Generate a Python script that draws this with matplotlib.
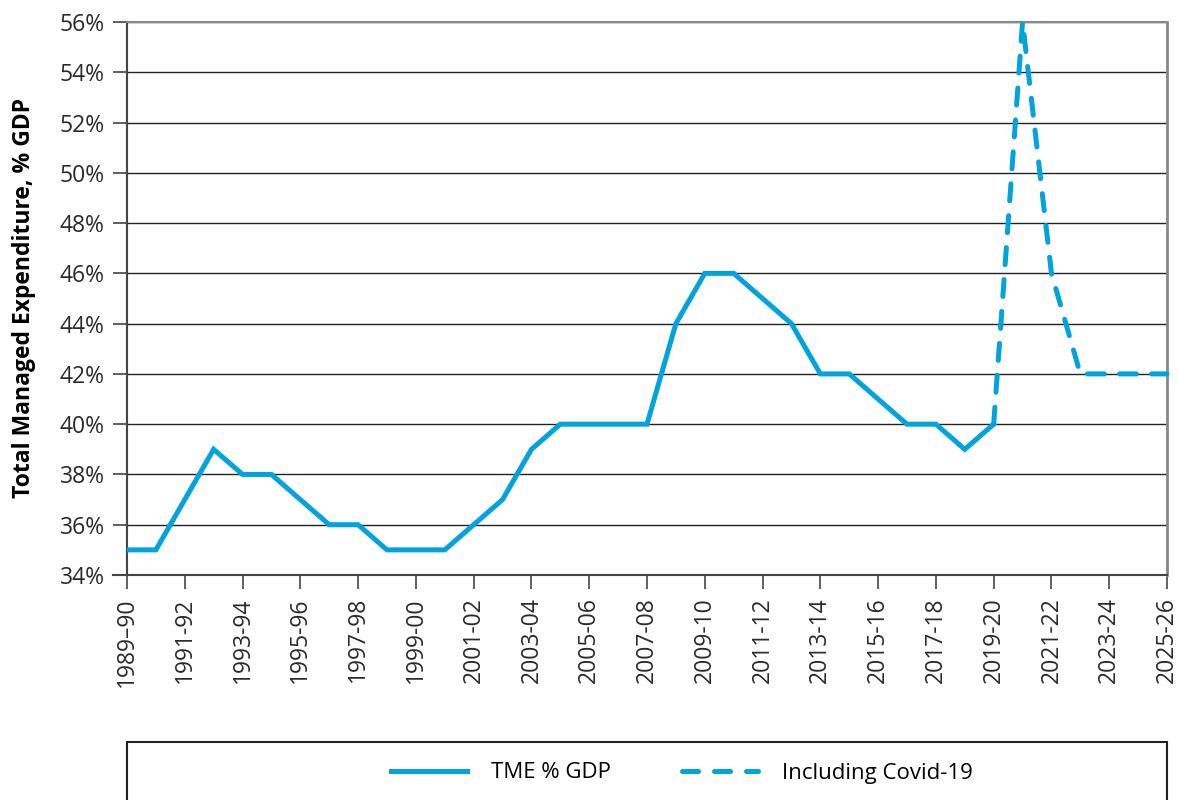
import matplotlib.pyplot as plt
from matplotlib.patches import Rectangle
from matplotlib.lines import Line2D

plt.rcParams['font.family'] = ['Open Sans', 'DejaVu Sans']

# data
years = ['1989–90', '1990-91', '1991-92', '1992-93', '1993-94', '1994-95', '1995-96', '1996-97',
         '1997-98', '1998-99', '1999-00', '2000-01', '2001-02', '2002-03', '2003-04', '2004-05',
         '2005-06', '2006-07', '2007-08', '2008-09', '2009-10', '2010-11', '2011-12', '2012-13',
         '2013-14', '2014-15', '2015-16', '2016-17', '2017-18', '2018-19', '2019-20', '2020-21',
         '2021-22', '2022-23', '2023-24', '2024-25', '2025-26']
tme = [35, 35, 37, 39, 38, 38, 37, 36, 36, 35, 35, 35, 36, 37, 39, 40, 40, 40, 40, 44, 46, 46,
       45, 44, 42, 42, 41, 40, 40, 39, 40]
covid = [40, 56, 46, 42, 42, 42, 42]
yticks = [34, 36, 38, 40, 42, 44, 46, 48, 50, 52, 54, 56]

blue = '#00a3dc'

fig = plt.figure(figsize=(11.78, 8), dpi=100)
ax = fig.add_axes([127/1178, 1-575/800, 1040/1178, 553/800])

x_tme = list(range(len(tme)))
x_cov = list(range(len(tme)-1, len(tme)-1+len(covid)))
ax.plot(x_tme, tme, color=blue, lw=3.6, solid_joinstyle='miter', zorder=3)
ax.plot(x_cov, covid, color=blue, lw=3.6, ls=(0, (3.4, 3)), dash_capstyle='round',
        zorder=3, clip_on=False)

ax.set_xlim(0, len(years)-1)
ax.set_ylim(34, 56)
ax.set_yticks(yticks)
ax.set_yticklabels([f'{v}%' for v in yticks])
ax.set_xticks(range(0, len(years), 2))
ax.set_xticklabels(years[::2], rotation=90)
ax.tick_params(axis='both', labelsize=16.5, length=10, width=1.2, color='#444444',
               labelcolor='#2a2a2a')
ax.tick_params(axis='x', pad=6)
ax.tick_params(axis='y', pad=6)
ax.grid(axis='y', color='#222222', lw=1)
ax.set_axisbelow(True)
for s in ['left', 'bottom']:
    ax.spines[s].set_color('#444444')
    ax.spines[s].set_linewidth(1.5)
ax.spines['right'].set_color('#888888')
ax.spines['right'].set_linewidth(2)
ax.spines['top'].set_color('#888888')
ax.spines['top'].set_linewidth(1.5)
ax.spines['bottom'].set_bounds(-0.5, len(years)-1)

ax.set_ylabel('Total Managed Expenditure, % GDP', fontsize=16.5, fontweight='bold', labelpad=17)

# legend box
fig.patches.append(Rectangle((127/1178, -0.1), 1040/1178, 0.1+1-742/800, transform=fig.transFigure,
                             fill=False, edgecolor='#222222', lw=1.5))
handles = [Line2D([], [], color=blue, lw=3.6),
           Line2D([], [], color=blue, lw=3.6, ls=(0, (3.2, 3.2)), dash_capstyle='round')]
fig.legend(handles, ['TME % GDP', 'Including Covid-19'], loc='center',
           bbox_to_anchor=(682/1178, 1-773/800), ncol=2, frameon=False, fontsize=16,
           handlelength=3.4, columnspacing=3.2, handletextpad=1.1)

fig.savefig('out.png', dpi=100)
